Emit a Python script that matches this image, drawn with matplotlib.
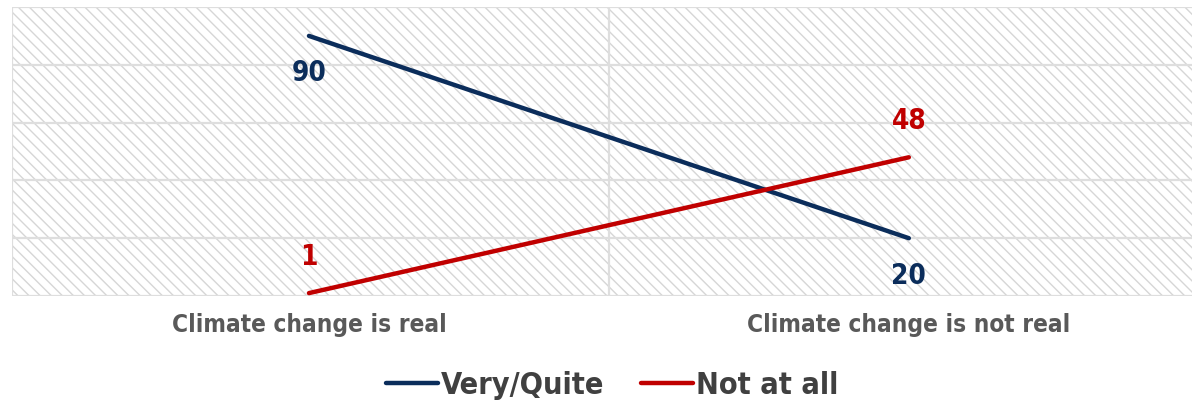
import matplotlib
matplotlib.use("Agg")
import matplotlib.pyplot as plt
from matplotlib.patches import Rectangle

# Share of respondents worried about climate change, by belief in it
categories = ["Climate change is real", "Climate change is not real"]
very_quite = [90, 20]
not_at_all = [1, 48]
series_names = ["Very/Quite", "Not at all"]

NAVY = "#0b2d5b"
RED = "#c00000"
GREY_TEXT = "#595959"
LEGEND_TEXT = "#404040"
GRID = "#dedede"
HATCH = "#d6d6d6"

plt.rcParams["font.family"] = ["DejaVu Sans"]
plt.rcParams["font.stretch"] = "condensed"
plt.rcParams["hatch.linewidth"] = 1.0

fig = plt.figure(figsize=(11.92, 4.03), dpi=100)
ax = fig.add_axes([12 / 1192, 107 / 403, 1180 / 1192, 289 / 403])

# hatched plot background
bg = Rectangle((0, 0), 1, 1, transform=ax.transAxes, facecolor="white",
               edgecolor=HATCH, linewidth=0, hatch="\\\\\\", zorder=0)
ax.add_patch(bg)

x = list(range(len(categories)))
ax.plot(x, very_quite, color=NAVY, lw=3.2, solid_capstyle="round",
        label=series_names[0], zorder=3)
ax.plot(x, not_at_all, color=RED, lw=3.2, solid_capstyle="round",
        label=series_names[1], zorder=3)

# value labels: navy below its points, red above
for xi, v in zip(x, very_quite):
    ax.annotate(str(v), (xi, v), xytext=(0, -27), textcoords="offset points",
                ha="center", va="center", fontsize=20, fontweight="bold",
                color=NAVY)
for xi, v in zip(x, not_at_all):
    ax.annotate(str(v), (xi, v), xytext=(0, 26), textcoords="offset points",
                ha="center", va="center", fontsize=20, fontweight="bold",
                color=RED)

ax.set_xlim(-0.495, 1.472)
ax.set_ylim(0, 100)
ax.set_yticks(range(0, 101, 20))
ax.set_xticks(x)
ax.set_xticklabels(categories, fontsize=17.5, fontweight="bold", color=GREY_TEXT)
ax.set_xticks([-0.495, 0.5], minor=True)
ax.tick_params(axis="x", which="both", length=0, pad=12)
ax.tick_params(axis="y", length=0, labelleft=False)
ax.grid(axis="y", color=GRID, lw=1.6, zorder=1)
ax.grid(axis="x", which="minor", color=GRID, lw=1.6, zorder=1)
ax.set_axisbelow(True)
for s in ax.spines.values():
    s.set_visible(False)

fig.legend(loc="center", bbox_to_anchor=(612 / 1192, 1 - 385 / 403),
           ncol=2, frameon=False, handlelength=1.7, handletextpad=0.1,
           columnspacing=1.2, prop={"size": 22, "weight": "bold"},
           labelcolor=LEGEND_TEXT)

fig.savefig("out.png", dpi=100)
